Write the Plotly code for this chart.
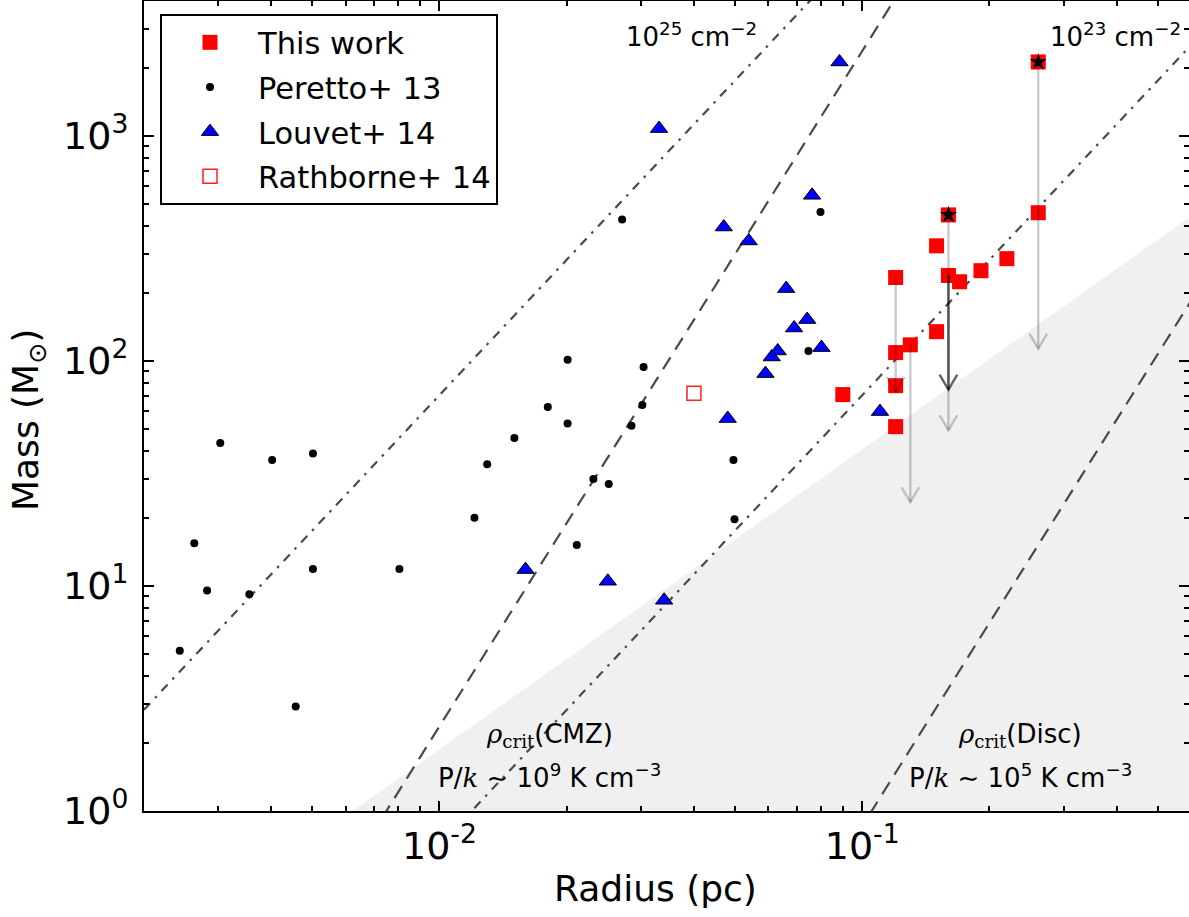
import numpy as np
import plotly.graph_objects as go

# ---------------- data ----------------
# Peretto+ 13 (radius pc, mass Msun)
per_r = [0.00303, 0.00402, 0.00502, 0.00263, 0.00502, 0.00804, 0.00282, 0.00355, 0.00243,
         0.00457, 0.01504, 0.01297, 0.0121, 0.02705, 0.0797, 0.0201, 0.0304, 0.01804,
         0.0302, 0.0201, 0.02846, 0.07464, 0.04961, 0.02313, 0.02515, 0.04989, 0.02113]
per_m = [43.2, 36.3, 38.8, 15.5, 11.9, 11.9, 9.54, 9.19, 5.16,
         2.91, 45.5, 34.8, 20.1, 425, 459, 101.4, 94.0, 62.4,
         63.8, 52.7, 51.6, 110.8, 36.3, 29.9, 28.4, 19.8, 15.2]

# Louvet+ 14
lou_r = [0.03307, 0.08838, 0.04706, 0.05391, 0.07613, 0.06612, 0.07413, 0.06904, 0.06314,
         0.06111, 0.05905, 0.08011, 0.04808, 0.1102, 0.01598, 0.02502, 0.0340]
lou_m = [1079, 2133, 394, 341.6, 545, 209.8, 152.8, 140.2, 110.8,
         104.2, 87.9, 114.7, 55.5, 59.6, 11.83, 10.5, 8.64]

# Rathborne+ 14
rat_r = [0.0400]
rat_m = [71.9]

# This work
tw_r = [0.261, 0.160, 0.150, 0.261, 0.120, 0.160, 0.170, 0.191, 0.220,
        0.150, 0.120, 0.130, 0.120, 0.120, 0.090]
tw_m = [2133, 446, 325, 456, 235, 240, 225, 252, 285,
        135, 109, 118, 77.7, 51.1, 70.9]

# flagged sources (stars)
star_r = [0.261, 0.160]
star_m = [2133, 446]

# downward arrows (radius, mass from, mass to, dark?)
arr_r = [0.120, 0.130, 0.160, 0.160, 0.261]
arr_from = [235, 118, 446, 240, 2133]
arr_to = [72.8, 23.6, 49.2, 74.6, 113.5]
arr_dark = [False, False, False, True, False]

# reference lines (end points, radius pc / mass Msun)
col25_r = [0.002, 0.08]
col25_m = [2.82, 4510]
col23_r = [0.01, 0.6]
col23_m = [0.704, 2535]
cmz_r = [0.006, 0.15]
cmz_m = [0.514, 8040]
disc_r = [0.08, 0.7]
disc_m = [0.4385, 294]
shade_r = [0.005, 0.7, 0.7, 0.005]
shade_m = [0.746, 542, 0.5, 0.5]

# tick labels
xt_vals = [0.01, 0.1]
xt_text = ["10<sup>-2</sup>", "10<sup>-1</sup>"]
yt_vals = [1, 10, 100, 1000]
yt_text = ["10<sup>0</sup>", "10<sup>1</sup>", "10<sup>2</sup>", "10<sup>3</sup>"]

# ---------------- figure ----------------
FONT = "DejaVu Sans"
LINE_C = "#4a4a4a"
fig = go.Figure()

fig.add_trace(go.Scatter(x=shade_r, y=shade_m, fill="toself", fillcolor="#f0f0f0",
                         line=dict(width=0), mode="lines", showlegend=False, hoverinfo="skip"))
for r, m, dash in [(col25_r, col25_m, "9px,7px,2.5px,7px"), (col23_r, col23_m, "9px,7px,2.5px,7px"),
                   (cmz_r, cmz_m, "14px,9px"), (disc_r, disc_m, "14px,9px")]:
    fig.add_trace(go.Scatter(x=r, y=m, mode="lines", line=dict(color=LINE_C, width=2.2, dash=dash),
                             showlegend=False, hoverinfo="skip"))

fig.add_trace(go.Scatter(x=per_r, y=per_m, mode="markers", name="Peretto+ 13", legendrank=2,
                         legendgroup="b", marker=dict(symbol="circle", size=8, color="black")))
fig.add_trace(go.Scatter(x=lou_r, y=lou_m, mode="markers", name="Louvet+ 14", legendrank=3,
                         legendgroup="c",
                         marker=dict(symbol="triangle-up", size=15, color="#0000ff",
                                     line=dict(color="black", width=1))))
fig.add_trace(go.Scatter(x=rat_r, y=rat_m, mode="markers", name="Rathborne+ 14", legendrank=4,
                         legendgroup="d",
                         marker=dict(symbol="square-open", size=14, color="#ff2020",
                                     line=dict(width=1.5))))
fig.add_trace(go.Scatter(x=tw_r, y=tw_m, mode="markers", name="This work", legendrank=1,
                         legendgroup="a", marker=dict(symbol="square", size=15, color="#ff0000")))

# arrows: shaft + open V head (head size given in decades = pixel styling)
HEAD_DX = 0.021
HEAD_DY = 0.067
for r, m0, m1, dark in zip(arr_r, arr_from, arr_to, arr_dark):
    xl = r * 10 ** (-HEAD_DX)
    xr = r * 10 ** (HEAD_DX)
    yh = m1 * 10 ** (HEAD_DY)
    col = "rgba(0,0,0,0.6)" if dark else "rgba(0,0,0,0.2)"
    fig.add_trace(go.Scatter(x=[xl, r, xr, None, r, r], y=[yh, m1, yh, None, m0, m1],
                             mode="lines", line=dict(color=col, width=2.5),
                             showlegend=False, hoverinfo="skip"))

fig.add_trace(go.Scatter(x=star_r, y=star_m, mode="markers", showlegend=False,
                         marker=dict(symbol="star", size=13, color="black")))

axis_common = dict(type="log", showline=True, linecolor="black", linewidth=2, mirror="allticks",
                   ticks="inside", ticklen=10, tickwidth=1.5, tickcolor="black", showgrid=False,
                   zeroline=False, tickfont=dict(family=FONT, size=38, color="black"))
fig.update_xaxes(range=[np.log10(0.002), np.log10(0.002) + 1045 / 422.7],
                 tickmode="array", tickvals=xt_vals, ticktext=xt_text,
                 minor=dict(tickvals=[0.002, 0.003, 0.004, 0.005, 0.006, 0.007, 0.008, 0.009,
                                      0.02, 0.03, 0.04, 0.05, 0.06, 0.07, 0.08, 0.09,
                                      0.2, 0.3, 0.4, 0.5],
                            ticks="inside", ticklen=5, tickwidth=1.5, tickcolor="black"),
                 **axis_common)
fig.update_yaxes(range=[0, 3.6], tickmode="array", tickvals=yt_vals, ticktext=yt_text,
                 ticklabelstandoff=6,
                 minor=dict(tickvals=[a * b for b in (1, 10, 100, 1000) for a in range(2, 10)],
                            ticks="inside", ticklen=5, tickwidth=1.5, tickcolor="black"),
                 **axis_common)

ann_font = dict(family=FONT, size=26, color="black")
serif = "<span style='font-family:DejaVu Serif'>"
anns = [
    dict(x=np.log10(0.0395), y=np.log10(2800), text="10<sup>25</sup> cm<sup>−2</sup>"),
    dict(x=np.log10(0.397), y=np.log10(2800), text="10<sup>23</sup> cm<sup>−2</sup>"),
    dict(x=np.log10(0.0182), y=np.log10(2.17), text=serif + "<i>ρ</i><sub>crit</sub></span>(CMZ)"),
    dict(x=np.log10(0.0182), y=np.log10(1.43), text="P/" + serif + "<i>k</i></span> ∼ 10<sup>9</sup> K cm<sup>−3</sup>"),
    dict(x=np.log10(0.2368), y=np.log10(2.17), text=serif + "<i>ρ</i><sub>crit</sub></span>(Disc)"),
    dict(x=np.log10(0.2368), y=np.log10(1.43), text="P/" + serif + "<i>k</i></span> ∼ 10<sup>5</sup> K cm<sup>−3</sup>"),
]
for a in anns:
    fig.add_annotation(xref="x", yref="y", showarrow=False, font=ann_font,
                       xanchor="center", yanchor="middle", **a)

fig.add_annotation(xref="paper", yref="paper", x=(655 - 144) / 1045, y=(811 - 888) / 810,
                   text="Radius (pc)", showarrow=False, xanchor="center", yanchor="middle",
                   font=dict(family=FONT, size=36, color="black"))
fig.add_annotation(xref="paper", yref="paper", x=(28 - 144) / 1045, y=(811 - 420) / 810,
                   text="Mass (M<sub>⊙</sub>)", showarrow=False, textangle=-90,
                   xanchor="center", yanchor="middle",
                   font=dict(family=FONT, size=36, color="black"))

fig.update_layout(
    width=1189, height=917,
    margin=dict(l=144, r=0, t=1, b=106, autoexpand=False),
    paper_bgcolor="white", plot_bgcolor="white",
    font=dict(family=FONT, color="black"),
    legend=dict(x=(160 - 144) / 1045, y=1 - 13 / 810, xanchor="left", yanchor="top",
                bgcolor="white", bordercolor="black", borderwidth=2,
                font=dict(family=FONT, size=30.5, color="black"), itemwidth=86,
                traceorder="grouped", tracegroupgap=2),
)

fig.write_html("out.html")
